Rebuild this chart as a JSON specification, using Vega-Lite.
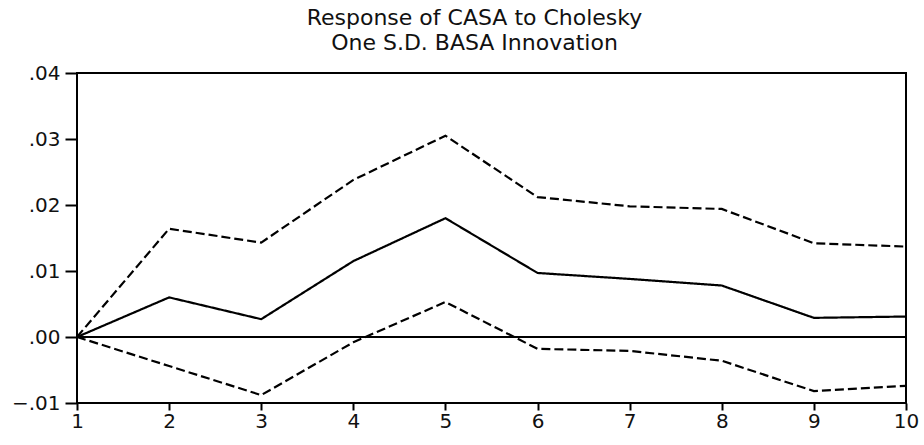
{
  "$schema": "https://vega.github.io/schema/vega-lite/v6.json",
  "width": 829,
  "height": 330,
  "autosize": {"type": "none"},
  "padding": {"left": 77, "top": 73, "right": 18, "bottom": 42},
  "background": "white",
  "title": {
    "text": ["Response of CASA to Cholesky", "One S.D. BASA Innovation"],
    "font": "DejaVu Sans",
    "fontSize": 22,
    "fontWeight": "normal",
    "color": "#111",
    "lineHeight": 25,
    "anchor": "middle",
    "dx": -17,
    "offset": 8
  },
  "config": {
    "view": {"stroke": "black", "strokeWidth": 2},
    "axis": {
      "labelFont": "DejaVu Sans",
      "labelFontSize": 20,
      "labelColor": "#111",
      "tickColor": "black",
      "tickWidth": 2,
      "domain": false,
      "grid": false,
      "title": null
    }
  },
  "data": {
    "values": [
      {"period": 1, "series": "resp", "value": 0},
      {"period": 2, "series": "resp", "value": 0.006},
      {"period": 3, "series": "resp", "value": 0.0027},
      {"period": 4, "series": "resp", "value": 0.0115},
      {"period": 5, "series": "resp", "value": 0.018},
      {"period": 6, "series": "resp", "value": 0.0097},
      {"period": 7, "series": "resp", "value": 0.0088},
      {"period": 8, "series": "resp", "value": 0.0078},
      {"period": 9, "series": "resp", "value": 0.0029},
      {"period": 10, "series": "resp", "value": 0.0031},
      {"period": 1, "series": "upper", "value": 0},
      {"period": 2, "series": "upper", "value": 0.0164},
      {"period": 3, "series": "upper", "value": 0.0143},
      {"period": 4, "series": "upper", "value": 0.0238},
      {"period": 5, "series": "upper", "value": 0.0305},
      {"period": 6, "series": "upper", "value": 0.0212},
      {"period": 7, "series": "upper", "value": 0.0198},
      {"period": 8, "series": "upper", "value": 0.0194},
      {"period": 9, "series": "upper", "value": 0.0142},
      {"period": 10, "series": "upper", "value": 0.0137},
      {"period": 1, "series": "lower", "value": 0},
      {"period": 2, "series": "lower", "value": -0.0044},
      {"period": 3, "series": "lower", "value": -0.0088},
      {"period": 4, "series": "lower", "value": -0.0008},
      {"period": 5, "series": "lower", "value": 0.0053},
      {"period": 6, "series": "lower", "value": -0.0018},
      {"period": 7, "series": "lower", "value": -0.0021},
      {"period": 8, "series": "lower", "value": -0.0036},
      {"period": 9, "series": "lower", "value": -0.0082},
      {"period": 10, "series": "lower", "value": -0.0074}
    ]
  },
  "layer": [
    {
      "data": {"values": [{"zero": 0}]},
      "mark": {"type": "rule", "color": "black", "strokeWidth": 2},
      "encoding": {
        "y": {"field": "zero", "type": "quantitative", "scale": {"domain": [-0.01, 0.04]}}
      }
    },
    {
      "mark": {"type": "line", "color": "black", "strokeWidth": 2.2},
      "encoding": {
        "x": {
          "field": "period",
          "type": "quantitative",
          "scale": {"domain": [1, 10], "nice": false, "zero": false},
          "axis": {"values": [1,2,3,4,5,6,7,8,9,10], "tickSize": 7, "labelPadding": 1, "labelFlush": false}
        },
        "y": {
          "field": "value",
          "type": "quantitative",
          "scale": {"domain": [-0.01, 0.04], "nice": false},
          "axis": {
            "values": [-0.01, 0, 0.01, 0.02, 0.03, 0.04],
            "tickSize": 12,
            "labelPadding": 5,
            "labelFlush": false,
            "labelExpr": "replace(format(datum.value, '.2f'), '0.', '.')"
          }
        },
        "detail": {"field": "series"},
        "strokeDash": {
          "field": "series",
          "type": "nominal",
          "scale": {"domain": ["resp", "upper", "lower"], "range": [[1, 0], [9, 4], [9, 4]]},
          "legend": null
        }
      }
    }
  ]
}
